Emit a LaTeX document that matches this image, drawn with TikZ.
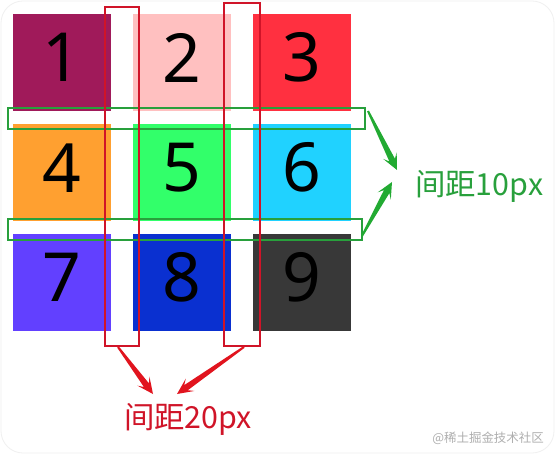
\documentclass[tikz,border=0pt]{standalone}
\usepackage{fontspec}
\setmainfont{Noto Sans}
\newfontfamily\cjkfont{Noto Sans CJK SC}
\usetikzlibrary{calc}
\definecolor{cA}{RGB}{160,26,90}
\definecolor{cB}{RGB}{255,192,192}
\definecolor{cC}{RGB}{255,48,64}
\definecolor{cD}{RGB}{255,160,48}
\definecolor{cE}{RGB}{50,255,106}
\definecolor{cF}{RGB}{32,210,255}
\definecolor{cG}{RGB}{98,64,255}
\definecolor{cH}{RGB}{10,48,208}
\definecolor{cI}{RGB}{56,56,56}
\definecolor{gline}{RGB}{40,160,60}
\definecolor{garr}{RGB}{34,170,50}
\definecolor{rline}{RGB}{208,20,40}
\definecolor{rarr}{RGB}{225,20,30}
\definecolor{wm}{RGB}{175,175,175}
\tikzset{
  cell/.style={anchor=north west,minimum width=98bp,minimum height=97bp,inner sep=0pt,draw=none},
  num/.style={font=\fontsize{68}{68}\selectfont,inner sep=0pt,text=black},
  gbox/.style={anchor=north west,draw=gline,line width=1.8bp,inner sep=0pt,minimum height=21bp},
  rbox/.style={anchor=north west,draw=rline,line width=1.8bp,inner sep=0pt},
  lbl/.style={font=\cjkfont\fontsize{30.5}{30.5}\selectfont,inner sep=0pt}
}
% tapered arrow from #1 to #2, fill colour #3
\newcommand\taperarrow[3]{%
  \fill[#3] ($(#1)!1bp!90:(#2)$)
    -- ($($(#2)!11bp!(#1)$)!3.1bp!90:(#2)$)
    -- ($($(#2)!16bp!(#1)$)!7.5bp!90:(#2)$)
    -- (#2)
    -- ($($(#2)!16bp!(#1)$)!7.5bp!-90:(#2)$)
    -- ($($(#2)!11bp!(#1)$)!3.1bp!-90:(#2)$)
    -- ($(#1)!1bp!-90:(#2)$) -- cycle;}
\begin{document}
\begin{tikzpicture}[x=1bp,y=-1bp]
\useasboundingbox (0,0) rectangle (555,454);
\fill[white] (0,0) rectangle (555,454);
\draw[black!6,line width=0.8bp,rounded corners=22bp] (1,1) rectangle (554,453);
% cells
\node[cell,fill=cA] (c1) at (13,14) {};
\node[cell,fill=cB] (c2) at (133,14) {};
\node[cell,fill=cC] (c3) at (253,14) {};
\node[cell,fill=cD] (c4) at (13,124) {};
\node[cell,fill=cE] (c5) at (133,124) {};
\node[cell,fill=cF] (c6) at (253,124) {};
\node[cell,fill=cG] (c7) at (13,234) {};
\node[cell,fill=cH] (c8) at (133,234) {};
\node[cell,fill=cI] (c9) at (253,234) {};
\foreach \i in {1,...,9} {
  \node[num] (n\i) at ([yshift=5bp]c\i.center) {\i};
}
% green gap boxes
\node[gbox,minimum width=357bp] (g1) at (7,107) {};
\node[gbox,minimum width=354bp] (g2) at (7,218) {};
% red gap boxes
\node[rbox,minimum width=34bp,minimum height=339bp] (r1) at (104,6) {};
\node[rbox,minimum width=36bp,minimum height=343bp] (r2) at (223,2) {};
% labels
\node[lbl,text=gline,anchor=west] (t10) at (415,186) {间距10px};
\node[lbl,text=rline] (t20) at (188,419) {间距20px};
\node[font=\cjkfont\fontsize{12.5}{12.5}\selectfont,text=wm,anchor=east,inner sep=0pt] (wmk) at (544,438) {@稀土掘金技术社区};
% arrows
\coordinate (ga1s) at (368,111);
\coordinate (ga1e) at (397,170);
\coordinate (ga2s) at (362,236);
\coordinate (ga2e) at (392,182);
\taperarrow{ga1s}{ga1e}{garr}
\taperarrow{ga2s}{ga2e}{garr}
\coordinate (ra1s) at (118,347);
\coordinate (ra1e) at (153,394);
\coordinate (ra2s) at (244,347);
\coordinate (ra2e) at (177,394);
\taperarrow{ra1s}{ra1e}{rarr}
\taperarrow{ra2s}{ra2e}{rarr}
\end{tikzpicture}
\end{document}
